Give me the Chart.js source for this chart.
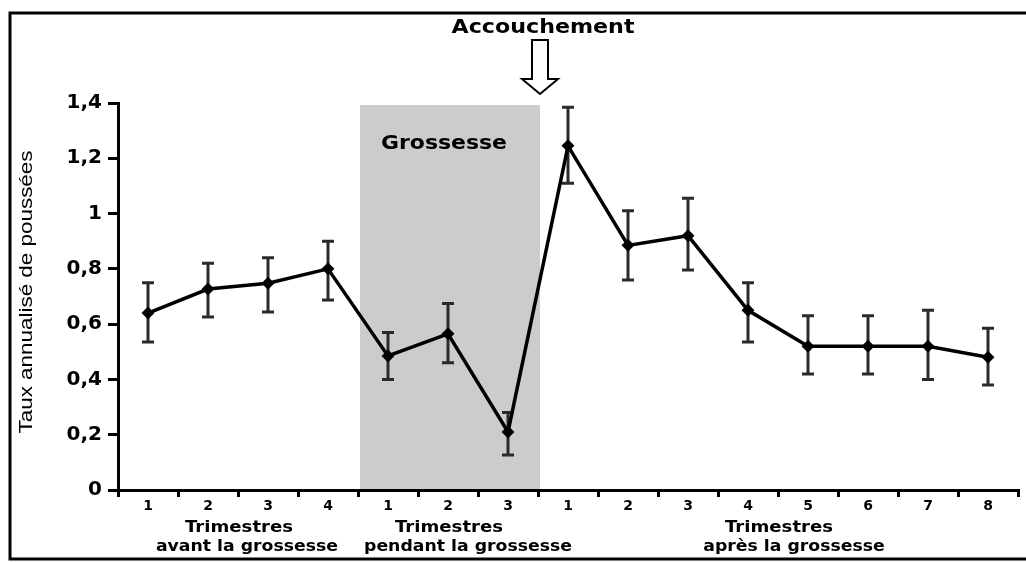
<!DOCTYPE html>
<html>
<head>
<meta charset="utf-8">
<script src="https://cdn.jsdelivr.net/npm/chart.js@4/dist/chart.umd.min.js"></script>
<style>
  body { margin: 0; background: #fff; }
  #chart { display: block; }
</style>
</head>
<body>
<canvas id="chart" width="1026" height="563"></canvas>
<script>
// trimestre labels on the x axis
var xLabels = ["1", "2", "3", "4", "1", "2", "3", "1", "2", "3", "4", "5", "6", "7", "8"];
// annualised relapse rate, with upper / lower ends of the error bars
var rates = [0.64, 0.727, 0.748, 0.80, 0.485, 0.565, 0.21, 1.245, 0.885, 0.92, 0.65, 0.52, 0.52, 0.52, 0.48];
var upper = [0.75, 0.82, 0.84, 0.90, 0.57, 0.675, 0.28, 1.385, 1.01, 1.055, 0.75, 0.63, 0.63, 0.65, 0.585];
var lower = [0.535, 0.626, 0.644, 0.687, 0.40, 0.46, 0.127, 1.11, 0.76, 0.796, 0.535, 0.42, 0.42, 0.40, 0.38];
// groups of trimestres under the axis
var groupNames = ["avant la grossesse", "pendant la grossesse", "après la grossesse"];
var groupSizes = [4, 3, 8];
var pregnancyGroup = 1;

var yTitle = "Taux annualisé de poussées";
var boldFont = "'DejaVu Sans', Verdana, sans-serif";

// draw text stretched to a given width (null width = natural width * 1.08)
function fitText(ctx, text, cx, cy, font, width) {
  ctx.save();
  ctx.font = font;
  var w = ctx.measureText(text).width;
  if (!width) width = w * 1.08;
  ctx.translate(cx, cy);
  ctx.scale(width / w, 1);
  ctx.textAlign = "center";
  ctx.textBaseline = "middle";
  ctx.fillStyle = "#000";
  ctx.fillText(text, 0, 0);
  ctx.restore();
}

function groupRange(g) {
  var start = 0;
  for (var i = 0; i < g; i++) start += groupSizes[i];
  return [start, start + groupSizes[g] - 1];
}

var extras = {
  id: "extras",
  beforeDraw: function (chart) {
    // shaded pregnancy band
    var ctx = chart.ctx, x = chart.scales.x, y = chart.scales.y;
    var r = groupRange(pregnancyGroup);
    var half = (x.getPixelForValue(1) - x.getPixelForValue(0)) / 2;
    var x0 = x.getPixelForValue(r[0]) - half + 2;
    var x1 = x.getPixelForValue(r[1]) + half + 2;
    ctx.save();
    ctx.fillStyle = "#cccccc";
    ctx.fillRect(x0, y.getPixelForValue(1.4) + 2, x1 - x0, y.getPixelForValue(0) - y.getPixelForValue(1.4) - 2);
    ctx.restore();
  },
  beforeDatasetsDraw: function (chart) {
    // error bars
    var ctx = chart.ctx, x = chart.scales.x, y = chart.scales.y;
    ctx.save();
    ctx.strokeStyle = "#2a2a2a";
    ctx.lineWidth = 3;
    for (var i = 0; i < rates.length; i++) {
      var px = x.getPixelForValue(i);
      var top = y.getPixelForValue(upper[i]);
      var bot = y.getPixelForValue(lower[i]);
      ctx.beginPath();
      ctx.moveTo(px, top); ctx.lineTo(px, bot);
      ctx.moveTo(px - 6, top); ctx.lineTo(px + 6, top);
      ctx.moveTo(px - 6, bot); ctx.lineTo(px + 6, bot);
      ctx.stroke();
    }
    ctx.restore();
  },
  afterDraw: function (chart) {
    var ctx = chart.ctx, x = chart.scales.x, y = chart.scales.y;
    var area = chart.chartArea;
    var half = (x.getPixelForValue(1) - x.getPixelForValue(0)) / 2;

    // outer frame
    ctx.save();
    ctx.strokeStyle = "#000";
    ctx.lineWidth = 3;
    ctx.beginPath();
    ctx.moveTo(1030, 13); ctx.lineTo(10, 13); ctx.lineTo(10, 559); ctx.lineTo(1030, 559);
    ctx.stroke();
    ctx.restore();

    // y axis title
    ctx.save();
    ctx.translate(27, 292);
    ctx.rotate(-Math.PI / 2);
    fitText(ctx, yTitle, 0, 0, "19px 'Liberation Sans', Arial, sans-serif", 283);
    ctx.restore();

    // group labels under the axis
    var shifts = [9, 20, 16];
    for (var g = 0; g < groupNames.length; g++) {
      var r = groupRange(g);
      var cx = (x.getPixelForValue(r[0]) + x.getPixelForValue(r[1])) / 2;
      fitText(ctx, "Trimestres", cx + 1, area.bottom + 38, "bold 16px " + boldFont, 108);
      fitText(ctx, groupNames[g], cx + shifts[g], area.bottom + 57, "bold 16px " + boldFont, null);
    }

    // "Grossesse" inside the band
    var pr = groupRange(pregnancyGroup);
    var bandMid = (x.getPixelForValue(pr[0]) + x.getPixelForValue(pr[1])) / 2;
    fitText(ctx, "Grossesse", bandMid - 4, y.getPixelForValue(1.2) - 14, "bold 19px " + boldFont, 126);

    // delivery arrow and label
    var ax = x.getPixelForValue(pr[1]) + half + 2;
    fitText(ctx, "Accouchement", ax + 3, 28, "bold 19px " + boldFont, 183);
    ctx.save();
    ctx.strokeStyle = "#000";
    ctx.fillStyle = "#fff";
    ctx.lineWidth = 2;
    ctx.beginPath();
    ctx.moveTo(ax - 8, 40); ctx.lineTo(ax + 8, 40); ctx.lineTo(ax + 8, 79);
    ctx.lineTo(ax + 18, 79); ctx.lineTo(ax, 94); ctx.lineTo(ax - 18, 79);
    ctx.lineTo(ax - 8, 79); ctx.closePath();
    ctx.fill();
    ctx.stroke();
    ctx.restore();
  }
};

new Chart(document.getElementById("chart"), {
  type: "line",
  data: {
    labels: xLabels,
    datasets: [{
      data: rates,
      borderColor: "#000",
      borderWidth: 3.5,
      pointStyle: "rectRot",
      pointRadius: 4,
      pointBackgroundColor: "#000",
      pointBorderColor: "#000",
      tension: 0
    }]
  },
  options: {
    responsive: false,
    animation: false,
    layout: { padding: { left: 12, top: 103, right: 8, bottom: 0 } },
    plugins: { legend: { display: false }, tooltip: { enabled: false } },
    scales: {
      x: {
        offset: true,
        grid: { offset: true, drawOnChartArea: false, drawTicks: true, tickLength: 7, color: "#000", lineWidth: 3 },
        border: { color: "#000", width: 3 },
        ticks: { color: "#000", padding: 1, autoSkip: false, maxRotation: 0, font: { family: boldFont, weight: "bold", size: 14 } },
        afterFit: function (s) { s.height = 73; }
      },
      y: {
        min: 0,
        max: 1.4,
        grid: { drawOnChartArea: false, tickLength: 10, color: "#000", lineWidth: 3 },
        border: { color: "#000", width: 3 },
        ticks: {
          stepSize: 0.2,
          color: "#000",
          padding: 6,
          font: { family: boldFont, weight: "bold", size: 20 },
          callback: function (v) { return String(Number(v.toFixed(1))).replace(".", ","); }
        },
        afterFit: function (s) { s.width = 106; }
      }
    }
  },
  plugins: [extras]
});
</script>
</body>
</html>
